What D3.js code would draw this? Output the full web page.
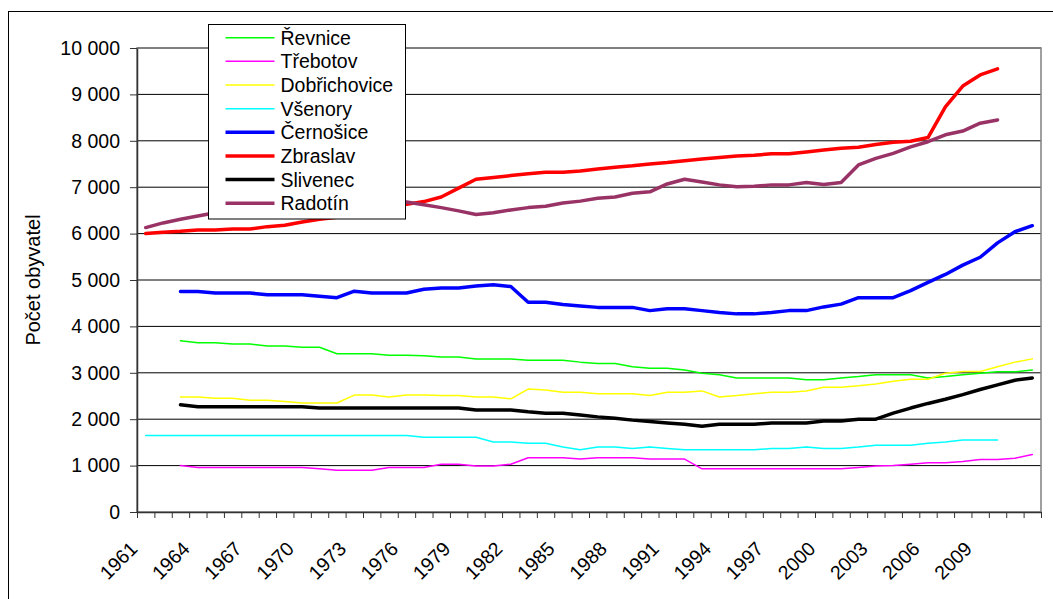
<!DOCTYPE html>
<html>
<head>
<meta charset="utf-8">
<script src="https://cdn.jsdelivr.net/npm/d3@7"></script>
<style>
  body { margin: 0; background: #fff; }
  svg { display: block; font-family: "Liberation Sans", Arial, sans-serif; }
  .line { fill: none; stroke-linejoin: round; stroke-linecap: round; }
</style>
</head>
<body>
<div id="chart"></div>
<script>
const years = [1961, 1962, 1963, 1964, 1965, 1966, 1967, 1968, 1969, 1970,
  1971, 1972, 1973, 1974, 1975, 1976, 1977, 1978, 1979, 1980,
  1981, 1982, 1983, 1984, 1985, 1986, 1987, 1988, 1989, 1990,
  1991, 1992, 1993, 1994, 1995, 1996, 1997, 1998, 1999, 2000,
  2001, 2002, 2003, 2004, 2005, 2006, 2007, 2008, 2009, 2010,
  2011, 2012];
const tickYears = [1961, 1964, 1967, 1970, 1973, 1976, 1979, 1982, 1985, 1988,
  1991, 1994, 1997, 2000, 2003, 2006, 2009];
const yTicks = [0, 1000, 2000, 3000, 4000, 5000, 6000, 7000, 8000, 9000, 10000];

const revnice = [null, null, 3690, 3650, 3650, 3620, 3620, 3580, 3580, 3550,
  3550, 3410, 3410, 3410, 3380, 3380, 3370, 3340, 3340, 3300,
  3300, 3300, 3270, 3270, 3270, 3230, 3200, 3200, 3130, 3100,
  3100, 3060, 2990, 2960, 2890, 2890, 2890, 2890, 2850, 2850,
  2890, 2920, 2960, 2960, 2960, 2890, 2920, 2960, 2990, 3020,
  3020, 3060];
const trebotov = [null, null, 1000, 960, 960, 960, 960, 960, 960, 960,
  930, 900, 900, 900, 960, 960, 960, 1030, 1030, 990,
  990, 1030, 1170, 1170, 1170, 1140, 1170, 1170, 1170, 1140,
  1140, 1140, 930, 930, 930, 930, 930, 930, 930, 930,
  930, 960, 990, 1000, 1030, 1060, 1060, 1090, 1130, 1130,
  1160, 1240];
const dobrichovice = [null, null, 2480, 2480, 2450, 2450, 2410, 2410, 2380, 2350,
  2350, 2350, 2520, 2520, 2480, 2520, 2520, 2510, 2510, 2480,
  2480, 2440, 2650, 2630, 2580, 2580, 2550, 2550, 2550, 2510,
  2580, 2580, 2610, 2480, 2510, 2550, 2580, 2580, 2610, 2690,
  2690, 2720, 2760, 2820, 2860, 2860, 2990, 3030, 3030, 3130,
  3230, 3300];
const vsenory = [1650, 1650, 1650, 1650, 1650, 1650, 1650, 1650, 1650, 1650,
  1650, 1650, 1650, 1650, 1650, 1650, 1610, 1610, 1610, 1610,
  1510, 1510, 1480, 1480, 1400, 1340, 1400, 1400, 1370, 1400,
  1370, 1340, 1340, 1340, 1340, 1340, 1370, 1370, 1400, 1370,
  1370, 1400, 1440, 1440, 1440, 1480, 1510, 1550, 1550, 1550,
  null, null];
const cernosice = [null, null, 4750, 4750, 4720, 4720, 4720, 4680, 4680, 4680,
  4650, 4620, 4760, 4720, 4720, 4720, 4800, 4830, 4830, 4870,
  4900, 4860, 4520, 4520, 4470, 4440, 4410, 4410, 4410, 4340,
  4380, 4380, 4340, 4300, 4270, 4270, 4300, 4340, 4340, 4420,
  4480, 4620, 4620, 4620, 4770, 4950, 5120, 5320, 5490, 5800,
  6040, 6170];
const zbraslav = [6000, 6030, 6050, 6080, 6080, 6100, 6100, 6150, 6180, 6250,
  6310, 6350, 6420, 6480, 6550, 6630, 6690, 6790, 6980, 7170,
  7210, 7250, 7290, 7320, 7320, 7350, 7390, 7430, 7460, 7500,
  7530, 7570, 7610, 7640, 7670, 7690, 7720, 7720, 7760, 7800,
  7840, 7860, 7920, 7970, 7990, 8070, 8730, 9180, 9420, 9550,
  null, null];
const slivenec = [null, null, 2310, 2270, 2270, 2270, 2270, 2270, 2270, 2270,
  2240, 2240, 2240, 2240, 2240, 2240, 2240, 2240, 2240, 2200,
  2200, 2200, 2160, 2130, 2130, 2090, 2050, 2020, 1980, 1950,
  1920, 1890, 1850, 1890, 1890, 1890, 1920, 1920, 1920, 1960,
  1960, 2000, 2000, 2130, 2240, 2340, 2430, 2530, 2640, 2740,
  2840, 2890];
const radotin = [6130, 6230, 6310, 6380, 6450, 6490, 6530, 6570, 6600, 6630,
  6660, 6690, 6710, 6720, 6710, 6680, 6620, 6560, 6490, 6410,
  6450, 6510, 6560, 6590, 6660, 6700, 6760, 6790, 6870, 6900,
  7070, 7170, 7110, 7050, 7010, 7020, 7050, 7050, 7100, 7060,
  7100, 7480, 7620, 7730, 7870, 7980, 8130, 8210, 8380, 8450,
  null, null];

const series = [
  { name: "Řevnice", values: revnice, color: "#00ff00", width: 1.5 },
  { name: "Třebotov", values: trebotov, color: "#ff00ff", width: 1.5 },
  { name: "Dobřichovice", values: dobrichovice, color: "#ffff00", width: 1.5 },
  { name: "Všenory", values: vsenory, color: "#00ffff", width: 1.5 },
  { name: "Černošice", values: cernosice, color: "#0000ff", width: 3.5 },
  { name: "Zbraslav", values: zbraslav, color: "#ff0000", width: 3.5 },
  { name: "Slivenec", values: slivenec, color: "#000000", width: 3.5 },
  { name: "Radotín", values: radotin, color: "#993366", width: 3.5 }
];

const width = 1053;
const height = 599;
const plot = { left: 137, right: 1041, top: 48, bottom: 512 };

const fmt = d3.formatLocale({ decimal: ",", thousands: " ", grouping: [3], currency: ["", ""] }).format(",d");

const svg = d3.select("#chart")
  .append("svg")
  .attr("width", width)
  .attr("height", height);

// chart area frame (runs off the picture on the right and bottom)
svg.append("rect")
  .attr("x", 8.5)
  .attr("y", 11.5)
  .attr("width", 1100)
  .attr("height", 700)
  .attr("fill", "#fff")
  .attr("stroke", "#000");

const xscale = d3.scaleLinear()
  .domain([years[0] - 0.5, years[years.length - 1] + 0.5])
  .range([plot.left, plot.right]);

const yscale = d3.scaleLinear()
  .domain([0, 10000])
  .range([plot.bottom, plot.top]);

// gridlines
svg.append("g")
  .selectAll("line")
  .data(yTicks.slice(1))
  .join("line")
  .attr("x1", plot.left)
  .attr("x2", plot.right)
  .attr("y1", (d) => yscale(d))
  .attr("y2", (d) => yscale(d))
  .attr("stroke", "#000")
  .attr("stroke-width", 1);

// plot border
svg.append("rect")
  .attr("x", plot.left)
  .attr("y", plot.top)
  .attr("width", plot.right - plot.left)
  .attr("height", plot.bottom - plot.top)
  .attr("fill", "none")
  .attr("stroke", "#808080")
  .attr("stroke-width", 1.5);

const y_axis = d3.axisLeft()
  .scale(yscale)
  .tickValues(yTicks)
  .tickSize(7)
  .tickSizeOuter(0)
  .tickPadding(10)
  .tickFormat(fmt);

const yAxisG = svg.append("g")
  .attr("transform", `translate(${plot.left}, 0)`)
  .call(y_axis);
yAxisG.select(".domain").attr("stroke", "#333").attr("stroke-width", 1.5);
yAxisG.selectAll(".tick line").attr("stroke", "#333");
yAxisG.selectAll(".tick text")
  .attr("font-size", 19.5)
  .attr("font-family", "Liberation Sans, Arial, sans-serif")
  .attr("fill", "#000");

const boundaries = years.map((y) => y - 0.5).concat([years[years.length - 1] + 0.5]);
const x_axis = d3.axisBottom()
  .scale(xscale)
  .tickValues(boundaries)
  .tickSize(6)
  .tickSizeOuter(0)
  .tickFormat("");

const xAxisG = svg.append("g")
  .attr("transform", `translate(0, ${plot.bottom})`)
  .call(x_axis);
xAxisG.select(".domain").attr("stroke", "#333").attr("stroke-width", 1.5);
xAxisG.selectAll(".tick line").attr("stroke", "#333");

// rotated year labels
svg.append("g")
  .selectAll("text")
  .data(tickYears)
  .join("text")
  .attr("transform", (d) => `translate(${xscale(d) - 7}, 550) rotate(-45)`)
  .attr("text-anchor", "end")
  .attr("font-size", 19.5)
  .text((d) => d);

// axis title
svg.append("text")
  .attr("transform", `translate(40, ${(plot.top + plot.bottom) / 2}) rotate(-90)`)
  .attr("text-anchor", "middle")
  .attr("font-size", 20)
  .text("Počet obyvatel");

const line = d3.line()
  .defined((d) => d !== null)
  .x((d, i) => xscale(years[i]))
  .y((d) => yscale(d));

svg.append("g")
  .selectAll("path")
  .data(series)
  .join("path")
  .attr("class", "line")
  .attr("stroke", (d) => d.color)
  .attr("stroke-width", (d) => d.width)
  .attr("d", (d) => line(d.values));

// legend
const legend = svg.append("g").attr("transform", "translate(208.5, 24.5)");
legend.append("rect")
  .attr("width", 197)
  .attr("height", 194.5)
  .attr("fill", "#fff")
  .attr("stroke", "#000");

const items = legend.selectAll("g.item")
  .data(series)
  .join("g")
  .attr("class", "item")
  .attr("transform", (d, i) => `translate(0, ${13.2 + i * 23.65})`);

items.append("line")
  .attr("x1", 17)
  .attr("x2", 66)
  .attr("stroke", (d) => d.color)
  .attr("stroke-width", (d) => d.width);

items.append("text")
  .attr("x", 72)
  .attr("y", 7)
  .attr("font-size", 19.5)
  .text((d) => d.name);
</script>
</body>
</html>
